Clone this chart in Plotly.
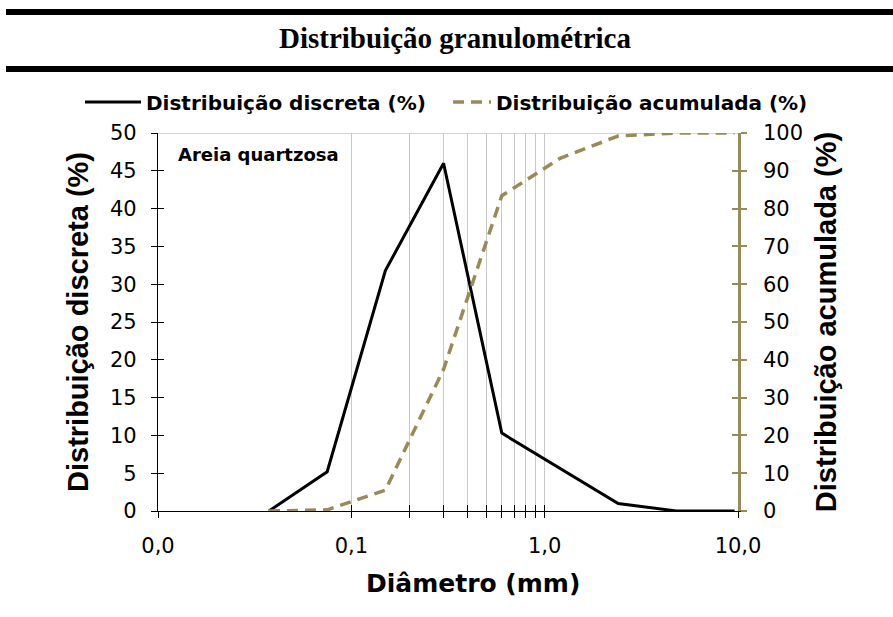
import plotly.graph_objects as go

# Data
diametro_mm = [0.0375, 0.075, 0.15, 0.3, 0.6, 1.2, 2.4, 4.8, 9.6]
discreta = [0.0, 5.2, 31.8, 46.0, 10.3, 5.7, 1.0, 0.0, 0.0]
acumulada = [0.0, 0.3, 5.5, 37.5, 83.4, 93.3, 99.2, 100.0, 100.0]

x_tickvals = [0.01, 0.1, 0.2, 0.3, 0.4, 0.5, 0.6, 0.7, 0.8, 0.9, 1.0, 10.0]
x_ticktext = ["0,0", "0,1", "", "", "", "", "", "", "", "", "1,0", "10,0"]

OLIVE = "#978C57"
SANS = "DejaVu Sans, Liberation Sans, sans-serif"
ARIAL = "Liberation Sans, Arial, sans-serif"
SERIF = "Liberation Serif, Times New Roman, serif"

L, T, W, H = 158, 133, 580, 378


def px(xp):
    return (xp - L) / W


def py(yp):
    return (T + H - yp) / H


fig = go.Figure()
fig.add_trace(go.Scatter(x=diametro_mm, y=discreta, mode="lines",
                         name="Distribuição discreta (%)", legend="legend",
                         line=dict(color="black", width=3),
                         xaxis="x", yaxis="y"))
fig.add_trace(go.Scatter(x=diametro_mm, y=acumulada, mode="lines",
                         name="Distribuição acumulada (%)", legend="legend2",
                         line=dict(color=OLIVE, width=3.5, dash="11px,7px"),
                         xaxis="x", yaxis="y2"))
# invisible helpers for crossing ticks
fig.add_trace(go.Scatter(x=[0.01], y=[0], mode="markers", marker=dict(opacity=0),
                         showlegend=False, hoverinfo="skip", xaxis="x2", yaxis="y3"))
fig.add_trace(go.Scatter(x=[0.01], y=[0], mode="markers", marker=dict(opacity=0),
                         showlegend=False, hoverinfo="skip", xaxis="x2", yaxis="y4"))

legend_common = dict(orientation="h", yanchor="middle", y=py(102), xanchor="left",
                     font=dict(family=SANS, size=20, weight="bold", color="black"),
                     bgcolor="rgba(0,0,0,0)", borderwidth=0)

fig.update_layout(
    width=893, height=617,
    margin=dict(l=L, r=893 - L - W, t=T, b=617 - T - H, autoexpand=False),
    paper_bgcolor="white", plot_bgcolor="white",
    font=dict(family=SANS, color="black", size=21),
    showlegend=True,
    legend=dict(legend_common, x=px(80), itemwidth=56),
    legend2=dict(legend_common, x=px(448), itemwidth=38),
    xaxis=dict(type="log", range=[-2, 1], tickvals=x_tickvals, ticktext=x_ticktext,
               showgrid=True, gridcolor="#C8C8C8", gridwidth=1,
               showline=True, linecolor="black", linewidth=1.2,
               ticks="outside", ticklen=6, tickcolor="black", tickwidth=1.2,
               tickfont=dict(size=21), zeroline=False, ticklabelstandoff=10),
    xaxis2=dict(type="log", range=[-2, 1], overlaying="x", anchor="y",
                tickvals=x_tickvals, showticklabels=False, showgrid=False,
                ticks="inside", ticklen=6, tickcolor="black", tickwidth=1.2,
                showline=False, zeroline=False),
    yaxis=dict(range=[0, 50], dtick=5, showgrid=False, zeroline=False,
               showline=True, linecolor="black", linewidth=1.2,
               ticks="outside", ticklen=6, tickcolor="black", tickwidth=1.2,
               tickfont=dict(size=21), ticklabelstandoff=10,
               title=dict(text="Distribuição discreta (%)",
                          font=dict(family=ARIAL, size=29, weight="bold"), standoff=12)),
    yaxis2=dict(range=[0, 100], dtick=10, overlaying="y", side="right", anchor="x",
                showgrid=False, zeroline=False,
                showline=True, linecolor=OLIVE, linewidth=2.5,
                ticks="outside", ticklen=6, tickcolor=OLIVE, tickwidth=2,
                tickfont=dict(size=21, color="black"), ticklabelstandoff=12,
                title=dict(text="Distribuição acumulada (%)",
                           font=dict(family=ARIAL, size=29, weight="bold"), standoff=14)),
    yaxis3=dict(range=[0, 50], dtick=5, overlaying="y", side="left", anchor="x2",
                showgrid=False, zeroline=False, showline=False, showticklabels=False,
                ticks="inside", ticklen=6, tickcolor="black", tickwidth=1.2),
    yaxis4=dict(range=[0, 100], dtick=10, overlaying="y", side="right", anchor="x2",
                showgrid=False, zeroline=False, showline=False, showticklabels=False,
                ticks="inside", ticklen=6, tickcolor=OLIVE, tickwidth=2),
    shapes=[
        dict(type="line", xref="x domain", yref="y", x0=0, x1=1, y0=50, y1=50,
             line=dict(color="#C8C8C8", width=1.5), layer="below"),
        dict(type="rect", xref="paper", yref="paper",
             x0=px(6), x1=px(893), y0=py(15), y1=py(9),
             fillcolor="black", line=dict(width=0)),
        dict(type="rect", xref="paper", yref="paper",
             x0=px(6), x1=px(893), y0=py(72), y1=py(66),
             fillcolor="black", line=dict(width=0)),
    ],
)

fig.add_annotation(text="Distribuição granulométrica", xref="paper", yref="paper",
                   x=px(455), y=py(38), showarrow=False,
                   xanchor="center", yanchor="middle",
                   font=dict(family=SERIF, size=29, weight="bold", color="black"))
fig.add_annotation(text="Diâmetro (mm)", xref="paper", yref="paper",
                   x=px(473), y=py(583), showarrow=False,
                   xanchor="center", yanchor="middle",
                   font=dict(family=SANS, size=25, weight="bold", color="black"))
fig.add_annotation(text="Areia quartzosa", xref="paper", yref="paper",
                   x=px(176), y=py(154), showarrow=False,
                   xanchor="left", yanchor="middle",
                   font=dict(family=SANS, size=18, weight="bold", color="black"))

fig.write_html("out.html")
